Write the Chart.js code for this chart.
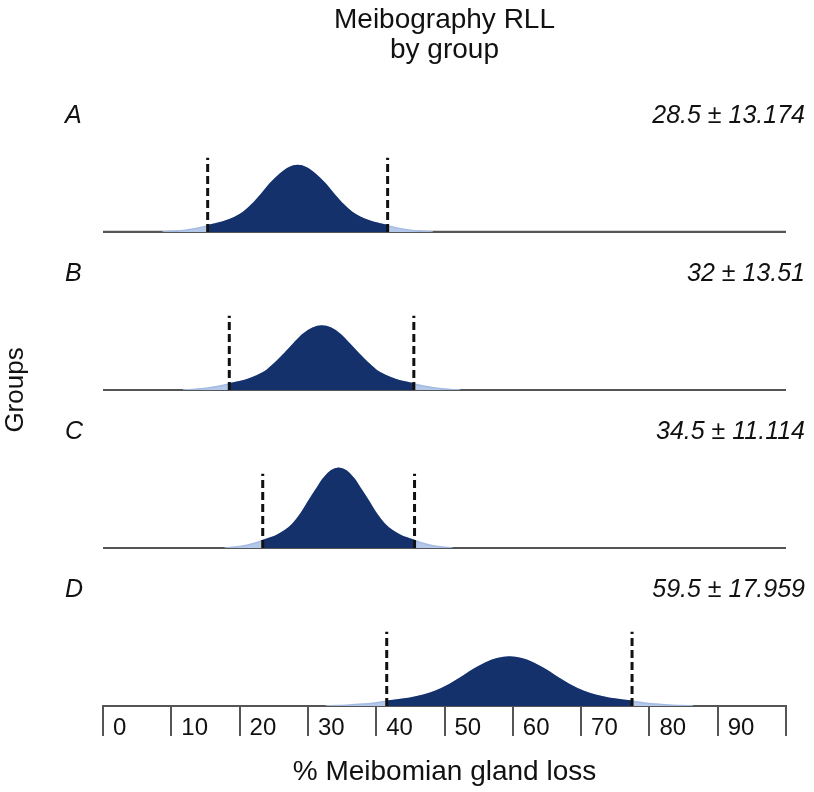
<!DOCTYPE html>
<html><head><meta charset="utf-8">
<script src="https://cdn.jsdelivr.net/npm/chart.js@4.4.1/dist/chart.umd.min.js"></script>
<style>html,body{margin:0;padding:0;background:#fff}#wrap{width:814px;height:792px;position:relative}</style>
</head><body><div id="wrap"><canvas id="c"></canvas></div>
<script>
// ---- data ----
const groups = ['A', 'B', 'C', 'D'];
const means = [28.5, 32, 34.5, 59.5];
const sds = [13.174, 13.51, 11.114, 17.959];
const tickLabels = ['0', '10', '20', '30', '40', '50', '60', '70', '80', '90', ''];
const chartTitle = ['Meibography RLL', 'by group'];
const xTitle = '% Meibomian gland loss';
const yTitle = 'Groups';

// estimated curve heights (relative density) for each group
const xA = [8.7, 10.1, 11.4, 12.7, 14.0, 15.3, 16.6, 18.0, 19.3, 20.6, 21.9, 23.2, 24.5, 25.9, 27.2, 28.5, 29.8, 31.1, 32.5, 33.8, 35.1, 36.4, 37.7, 39.0, 40.4, 41.7, 43.0, 44.3, 45.6, 46.9, 48.3];
const yA = [0, 0.08, 0.17, 0.32, 0.52, 0.80, 1.05, 1.39, 1.85, 2.52, 3.53, 4.79, 6.13, 7.31, 8.11, 8.4, 8.11, 7.31, 6.13, 4.79, 3.53, 2.52, 1.85, 1.39, 1.05, 0.80, 0.52, 0.32, 0.17, 0.08, 0];
const xB = [11.7, 13.1, 14.4, 15.8, 17.1, 18.5, 19.8, 21.2, 22.5, 23.9, 25.2, 26.6, 28.0, 29.3, 30.7, 32, 33.4, 34.7, 36.0, 37.4, 38.8, 40.1, 41.5, 42.8, 44.2, 45.5, 46.9, 48.2, 49.6, 50.9, 52.3];
const yB = [0, 0.07, 0.16, 0.31, 0.50, 0.77, 1.01, 1.34, 1.78, 2.43, 3.40, 4.62, 5.91, 7.05, 7.82, 8.1, 7.82, 7.05, 5.91, 4.62, 3.40, 2.43, 1.78, 1.34, 1.01, 0.77, 0.50, 0.31, 0.16, 0.07, 0];
const xC = [17.8, 18.9, 20.0, 21.2, 22.3, 23.4, 24.5, 25.6, 26.7, 27.8, 28.9, 30.0, 31.2, 32.3, 33.4, 34.5, 35.6, 36.7, 37.8, 39.0, 40.1, 41.2, 42.3, 43.4, 44.5, 45.6, 46.7, 47.8, 49.0, 50.1, 51.2];
const yC = [0, 0.09, 0.20, 0.38, 0.63, 0.96, 1.26, 1.67, 2.22, 3.03, 4.24, 5.76, 7.37, 8.79, 9.75, 10.1, 9.75, 8.79, 7.37, 5.76, 4.24, 3.03, 2.22, 1.67, 1.26, 0.96, 0.63, 0.38, 0.20, 0.09, 0];
const xD = [32.6, 34.4, 36.1, 38.0, 39.8, 41.5, 43.3, 45.1, 46.9, 48.7, 50.5, 52.3, 54.1, 55.9, 57.7, 59.5, 61.3, 63.1, 64.9, 66.7, 68.5, 70.3, 72.1, 73.9, 75.7, 77.5, 79.3, 81.1, 82.9, 84.6, 86.4];
const yD = [0, 0.06, 0.12, 0.24, 0.38, 0.59, 0.78, 1.02, 1.36, 1.86, 2.60, 3.53, 4.53, 5.39, 5.98, 6.2, 5.98, 5.39, 4.53, 3.53, 2.60, 1.86, 1.36, 1.02, 0.78, 0.59, 0.38, 0.24, 0.12, 0.06, 0];

// ---- styling ----
const FONT = '"Liberation Sans", Arial, Helvetica, sans-serif';
const NAVY = '#15316c';
const LIGHT = '#b4c8ea';
const LIGHT_EDGE = '#a3bbe3';
const GREY = '#555555';
const INK = '#111111';
const DASH_TOP = 9.4;
const Y_MAX = 20;

const axisIds = ['yA', 'yB', 'yC', 'yD'];
const curvesX = [xA, xB, xC, xD];
const curvesY = [yA, yB, yC, yD];

const datasets = [];
groups.forEach((g, i) => {
  const id = axisIds[i];
  const pts = curvesX[i].map((x, j) => ({x: x, y: curvesY[i][j]}));
  const lo = means[i] - sds[i];
  const hi = means[i] + sds[i];
  const inner = pts.filter(p => p.x >= lo - 0.06 && p.x <= hi + 0.06);
  datasets.push({label: g + ' baseline', data: [{x: 0, y: 0}, {x: 100, y: 0}], yAxisID: id,
    borderColor: GREY, borderWidth: 2.2, pointRadius: 0, fill: false, order: 4, clip: false});
  datasets.push({label: g + ' tails', data: pts, yAxisID: id, fill: 'origin',
    backgroundColor: LIGHT, borderColor: LIGHT_EDGE, borderWidth: 1.5, pointRadius: 0,
    cubicInterpolationMode: 'monotone', order: 3});
  datasets.push({label: g, data: inner, yAxisID: id, fill: 'origin',
    backgroundColor: NAVY, borderColor: NAVY, borderWidth: 1.5, pointRadius: 0,
    cubicInterpolationMode: 'monotone', order: 2});
  [lo, hi].forEach(v => datasets.push({label: g + ' ±SD', data: [{x: v, y: 0}, {x: v, y: DASH_TOP}], yAxisID: id,
    borderColor: INK, borderWidth: 3, borderDash: [8, 4], pointRadius: 0, fill: false, order: 1, clip: false}));
});

const yScale = () => ({
  type: 'linear', min: 0, max: Y_MAX, position: 'left', stack: 'groups', stackWeight: 1,
  ticks: {display: false}, grid: {display: false, drawTicks: false}, border: {display: false}
});

const panelText = {
  id: 'panelText',
  afterDraw(chart) {
    const ctx = chart.ctx;
    ctx.save();
    ctx.fillStyle = INK;
    ctx.textBaseline = 'middle';
    ctx.font = 'italic 25px ' + FONT;
    groups.forEach((g, i) => {
      const sc = chart.scales[axisIds[i]];
      const y = sc.top + 42;
      ctx.textAlign = 'left';
      ctx.fillText(g, 65, y);
      ctx.textAlign = 'right';
      ctx.fillText(means[i] + ' \u00b1 ' + sds[i], 805, y);
    });
    ctx.font = '26px ' + FONT;
    ctx.translate(16, (chart.chartArea.top + chart.chartArea.bottom) / 2);
    ctx.rotate(-Math.PI / 2);
    ctx.textAlign = 'center';
    ctx.fillText(yTitle, 0, 0);
    ctx.restore();
  }
};

// stacked scales are laid out bottom-up, so the last group is declared first
const scales = {
  x: {
    type: 'linear', min: 0, max: 100, position: 'bottom',
    ticks: {stepSize: 10, autoSkip: false, maxRotation: 0, align: 'start', labelOffset: 10,
      padding: -21.7, color: INK, font: {family: FONT, size: 24},
      callback: (v, i) => (tickLabels[i] !== undefined ? tickLabels[i] : '')},
    grid: {display: true, drawOnChartArea: false, drawTicks: true, tickLength: 30, color: GREY, lineWidth: 2},
    border: {display: true, color: GREY, width: 2},
    title: {display: true, text: xTitle, color: INK, font: {family: FONT, size: 28},
      padding: {top: 33.8, bottom: 3.2}}
  }
};
axisIds.slice().reverse().forEach(id => { scales[id] = yScale(); });

new Chart(document.getElementById('c'), {
  type: 'line',
  data: {datasets: datasets},
  plugins: [panelText],
  options: {
    responsive: true, maintainAspectRatio: false, animation: false,
    layout: {padding: {left: 103, right: 28, top: 0, bottom: 0}},
    plugins: {
      legend: {display: false}, tooltip: {enabled: false},
      title: {display: true, text: chartTitle, fullSize: false, color: INK,
        font: {family: FONT, size: 28, weight: 'normal', lineHeight: 1.06},
        padding: {top: 5.5, bottom: 9.1}}
    },
    scales: scales
  }
});
</script></body></html>
